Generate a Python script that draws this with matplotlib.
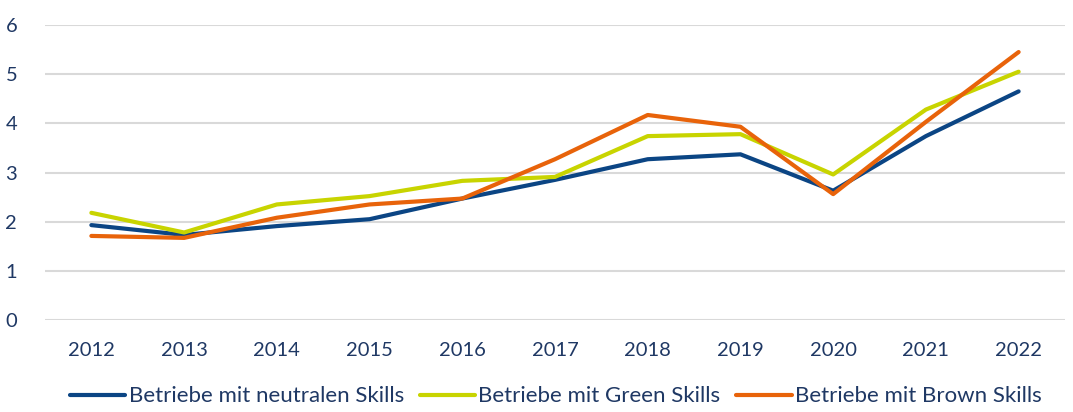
import matplotlib
matplotlib.use('Agg')
import matplotlib.pyplot as plt

plt.rcParams['font.family'] = ['Lato', 'DejaVu Sans']

# ── Daten ──
jahre = ['2012', '2013', '2014', '2015', '2016', '2017', '2018', '2019', '2020', '2021', '2022']
neutral = [1.93, 1.73, 1.91, 2.05, 2.47, 2.85, 3.27, 3.37, 2.63, 3.74, 4.65]
green = [2.18, 1.78, 2.35, 2.52, 2.83, 2.91, 3.74, 3.78, 2.96, 4.28, 5.05]
brown = [1.71, 1.67, 2.08, 2.35, 2.47, 3.27, 4.17, 3.93, 2.56, 4.03, 5.45]
namen = ['Betriebe mit neutralen Skills', 'Betriebe mit Green Skills', 'Betriebe mit Brown Skills']

farben = ['#0B4584', '#C8D400', '#E8630A']
textfarbe = '#1F3864'

fig = plt.figure(figsize=(10.73, 4.12), dpi=100, facecolor='white')
ax = fig.add_axes([45/1073, 1-320/412, 1020/1073, 295/412])

x = range(len(jahre))
for werte, farbe, name in zip([neutral, green, brown], farben, namen):
    ax.plot(x, werte, color=farbe, lw=3, label=name, solid_capstyle='round')

ax.set_xlim(-0.5, len(jahre) - 0.5)
ax.set_ylim(0, 6)
ax.set_yticks(range(0, 7))
ax.set_xticks(list(x))
ax.set_xticklabels(jahre)
ax.grid(axis='y', color='#D9D9D9', lw=1.5)
ax.set_axisbelow(True)
for s in ax.spines.values():
    s.set_visible(False)
ax.tick_params(length=0, labelsize=14.5, labelcolor=textfarbe)
ax.tick_params(axis='x', pad=16)
ax.tick_params(axis='y', pad=20)

fig.legend(loc='lower center', bbox_to_anchor=(0.518, -0.035), ncol=3, frameon=False,
           fontsize=16, labelcolor=textfarbe, handlelength=2.5, handletextpad=0.15,
           columnspacing=0.7)

fig.savefig('out.png', dpi=100, facecolor='white')
